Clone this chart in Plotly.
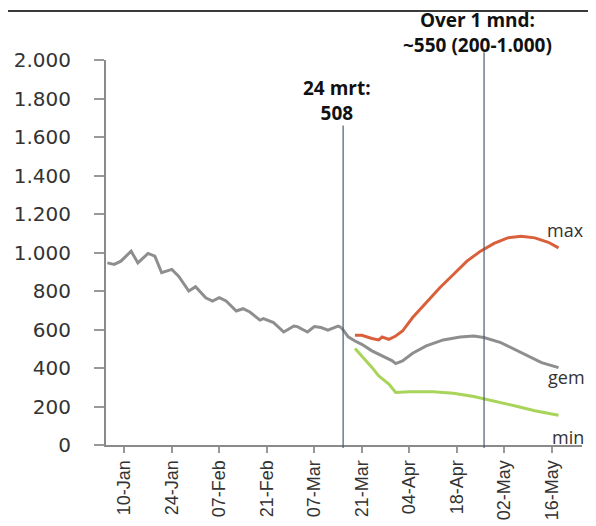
import plotly.graph_objects as go

# ---- data ----
hist_dates = ["2021-01-05", "2021-01-07", "2021-01-09", "2021-01-12", "2021-01-14", "2021-01-17",
              "2021-01-19", "2021-01-21", "2021-01-24", "2021-01-26", "2021-01-29", "2021-01-31",
              "2021-02-03", "2021-02-05", "2021-02-07", "2021-02-09", "2021-02-12", "2021-02-14",
              "2021-02-16", "2021-02-19", "2021-02-20", "2021-02-23", "2021-02-26", "2021-03-01",
              "2021-03-02", "2021-03-05", "2021-03-07", "2021-03-09", "2021-03-11", "2021-03-14",
              "2021-03-15"]
hist_vals = [946, 938, 955, 1007, 946, 995, 981, 895, 912, 877, 800, 822, 765, 748, 765, 748,
             696, 708, 691, 649, 656, 636, 587, 618, 615, 587, 615, 610, 597, 618, 610]

gem_dates = ["2021-03-15", "2021-03-17", "2021-03-19", "2021-03-21", "2021-03-24", "2021-03-27",
             "2021-03-30", "2021-03-31", "2021-04-02", "2021-04-05", "2021-04-09", "2021-04-14",
             "2021-04-19", "2021-04-23", "2021-04-26", "2021-05-01", "2021-05-07", "2021-05-13",
             "2021-05-18"]
gem_vals = [610, 562, 540, 523, 489, 463, 437, 423, 437, 477, 515, 546, 561, 566, 558, 532,
            480, 428, 402]

max_dates = ["2021-03-19", "2021-03-21", "2021-03-24", "2021-03-26", "2021-03-27", "2021-03-29",
             "2021-03-31", "2021-04-02", "2021-04-05", "2021-04-09", "2021-04-13", "2021-04-17",
             "2021-04-21", "2021-04-25", "2021-04-29", "2021-05-03", "2021-05-07", "2021-05-11",
             "2021-05-15", "2021-05-18"]
max_vals = [570, 570, 553, 546, 561, 549, 566, 592, 662, 739, 817, 886, 955, 1007, 1047, 1076,
            1085, 1076, 1053, 1024]

min_dates = ["2021-03-19", "2021-03-21", "2021-03-24", "2021-03-26", "2021-03-29", "2021-03-31",
             "2021-04-04", "2021-04-11", "2021-04-17", "2021-04-23", "2021-04-29", "2021-05-05",
             "2021-05-11", "2021-05-18"]
min_vals = [501, 463, 403, 359, 316, 273, 276, 276, 269, 252, 230, 204, 178, 155]

tick_dates = ["2021-01-10", "2021-01-24", "2021-02-07", "2021-02-21", "2021-03-07",
              "2021-03-21", "2021-04-04", "2021-04-18", "2021-05-02", "2021-05-16"]
tick_labels = ["10-Jan", "24-Jan", "07-Feb", "21-Feb", "07-Mar",
               "21-Mar", "04-Apr", "18-Apr", "02-May", "16-May"]
y_ticks = [0, 200, 400, 600, 800, 1000, 1200, 1400, 1600, 1800, 2000]

marker1_date = "2021-03-15 12:00"
marker1_text = "24 mrt:<br>508"
marker2_date = "2021-04-26 01:00"
marker2_text = "Over 1 mnd:<br>~550 (200-1.000)"

GREY = "#8e8e8e"
ORANGE = "#d9603b"
GREEN = "#a8d45a"
VLINE = "#4c5975"

fig = go.Figure()
fig.add_trace(go.Scatter(x=hist_dates, y=hist_vals, mode="lines",
                         line=dict(color=GREY, width=3), hoverinfo="skip"))
fig.add_trace(go.Scatter(x=gem_dates, y=gem_vals, mode="lines",
                         line=dict(color=GREY, width=3), hoverinfo="skip"))
fig.add_trace(go.Scatter(x=max_dates, y=max_vals, mode="lines",
                         line=dict(color=ORANGE, width=3), hoverinfo="skip"))
fig.add_trace(go.Scatter(x=min_dates, y=min_vals, mode="lines",
                         line=dict(color=GREEN, width=3), hoverinfo="skip"))

# vertical marker lines
fig.add_shape(type="line", xref="x", yref="paper", x0=marker1_date, x1=marker1_date,
              y0=-0.008, y1=0.83, line=dict(color=VLINE, width=1.2))
fig.add_shape(type="line", xref="x", yref="paper", x0=marker2_date, x1=marker2_date,
              y0=-0.008, y1=1.02, line=dict(color=VLINE, width=1.2))
# top rule
fig.add_shape(type="line", xref="paper", yref="paper", x0=-0.25, x1=1.1,
              y0=1.1273, y1=1.1273, line=dict(color="#3a3a3a", width=2))

bold = dict(family="Open Sans", size=19, color="#111111")
fig.add_annotation(x=marker1_date, xref="x", y=0.896, yref="paper", text="<b>" + marker1_text + "</b>",
                   showarrow=False, font=bold, align="center", xanchor="center", yanchor="middle",
                   xshift=-6)
fig.add_annotation(x=marker2_date, xref="x", y=1.0727, yref="paper", text="<b>" + marker2_text + "</b>",
                   showarrow=False, font=bold, align="center", xanchor="center", yanchor="middle",
                   xshift=-7)

lab = dict(family="Open Sans", size=18, color="#333333")
for txt, lx, ly in [("max", 0.966, 0.558), ("gem", 0.968, 0.177), ("min", 0.971, 0.0216)]:
    fig.add_annotation(x=lx, y=ly, xref="paper", yref="paper", text=txt, showarrow=False,
                       font=lab, xanchor="center", yanchor="middle")

fig.update_layout(
    width=588, height=518,
    margin=dict(l=98, r=14, t=52, b=81),
    paper_bgcolor="white", plot_bgcolor="white",
    showlegend=False,
    separators=",.",
)
fig.update_xaxes(
    type="date",
    range=["2021-01-04 14:24", "2021-05-24 22:00"],
    tickmode="array", tickvals=tick_dates, ticktext=tick_labels,
    tickangle=-90,
    tickfont=dict(family="Liberation Sans", size=18, color="#333333"),
    ticks="outside", ticklen=6, tickwidth=2, tickcolor="#999999",
    showline=True, linecolor="#8a8a8a", linewidth=2,
    showgrid=False, zeroline=False, automargin=False,
)
fig.update_yaxes(
    range=[0, 2000],
    tickmode="array", tickvals=y_ticks,
    tickformat=",d",
    tickfont=dict(family="DejaVu Sans", size=20, color="#333333"),
    ticks="outside", ticklen=10, tickwidth=2, tickcolor="#999999",
    ticklabelstandoff=19,
    showline=True, linecolor="#8a8a8a", linewidth=2,
    showgrid=False, zeroline=False, automargin=False,
)

fig.write_html("out.html", config={"displayModeBar": False})
